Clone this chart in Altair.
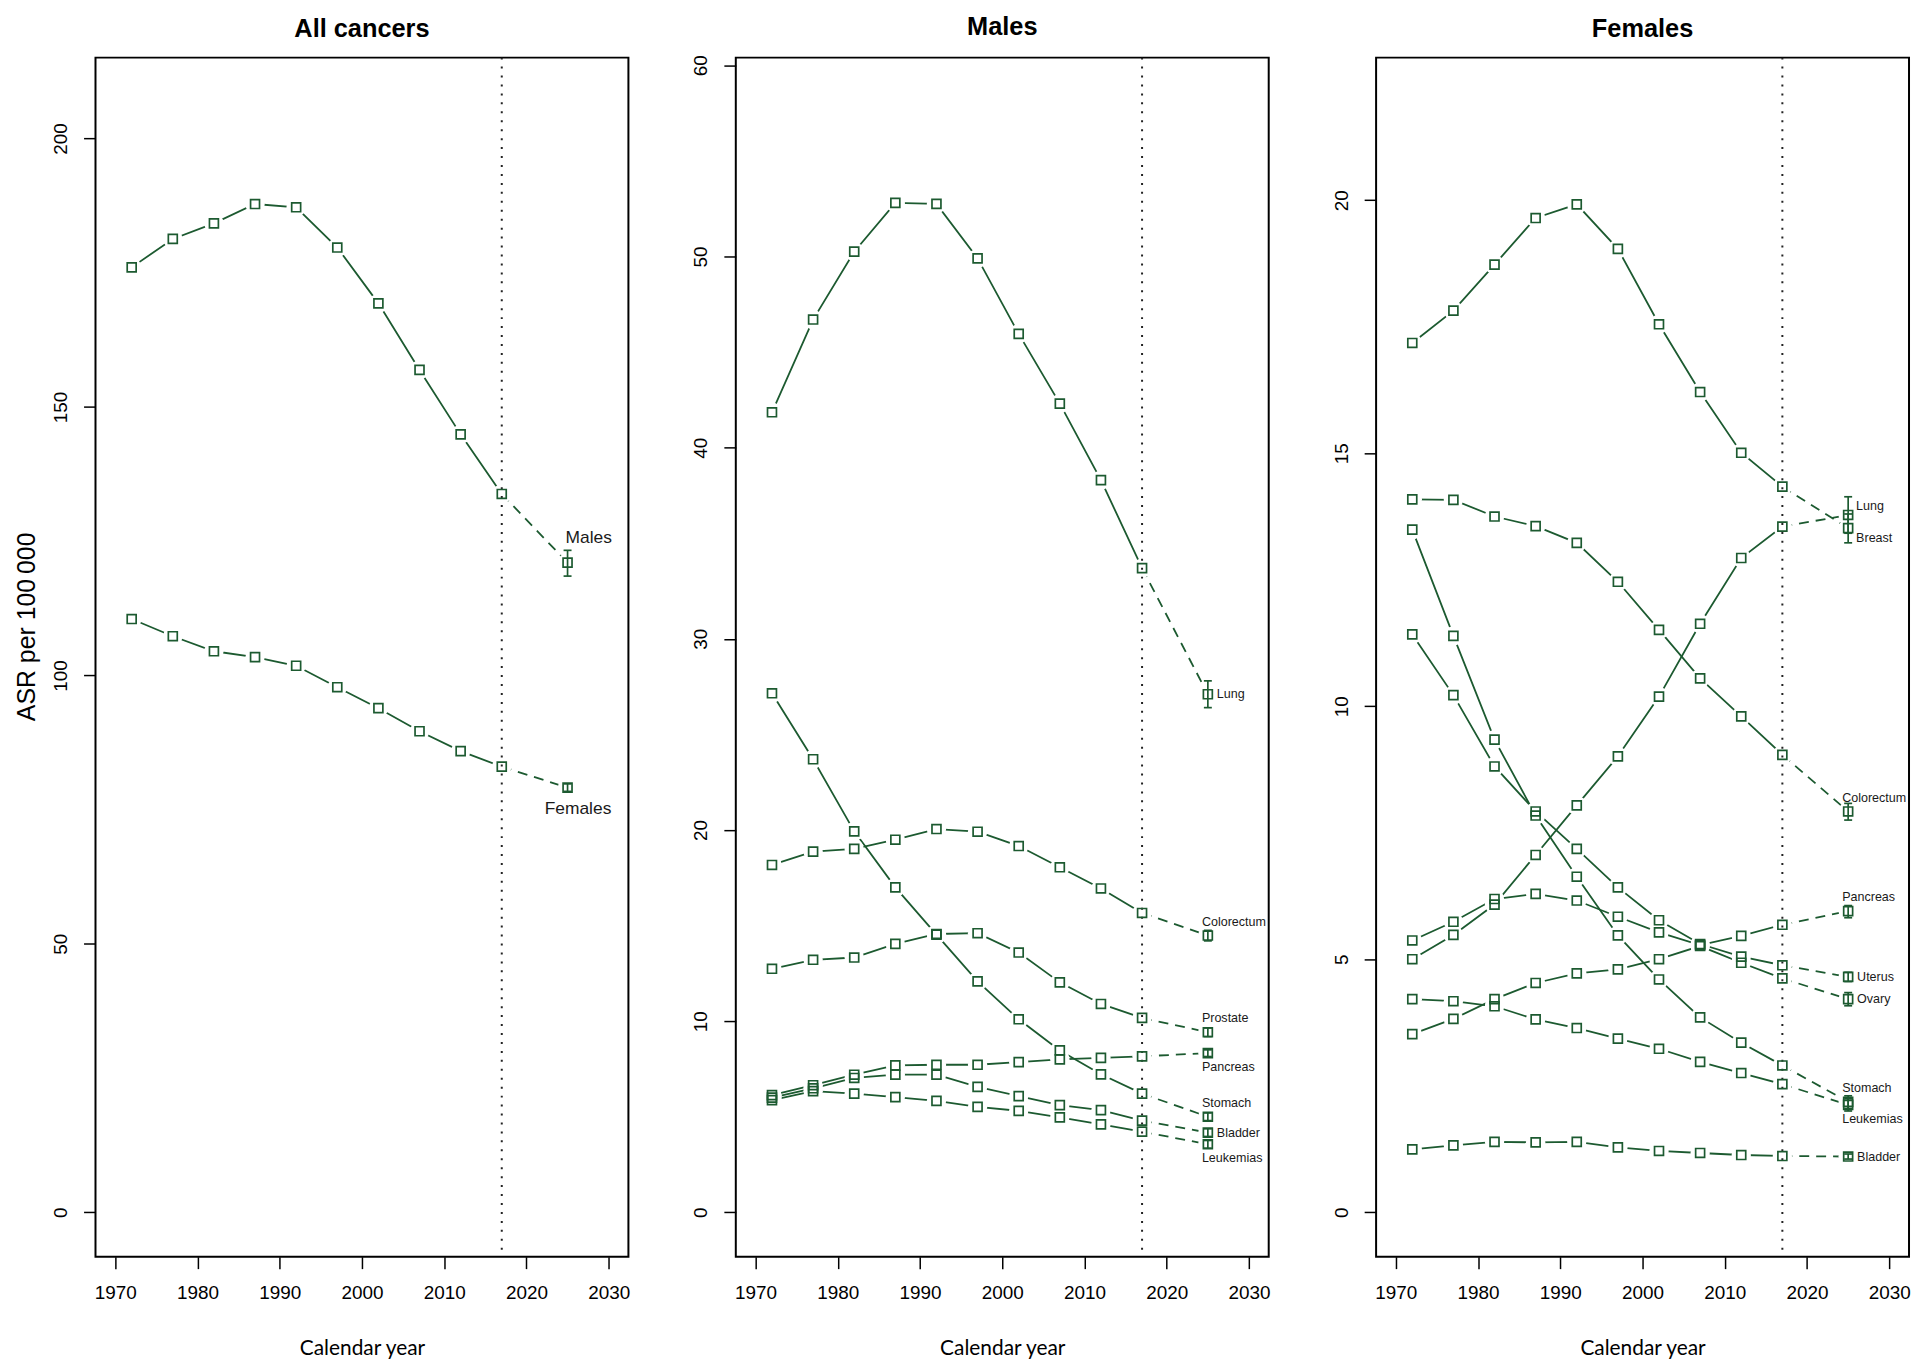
import altair as alt
import pandas as pd

# ---------------- data ----------------
YEARS = [1972, 1977, 1982, 1987, 1992, 1997, 2002, 2007, 2012, 2017]
PRED_YEAR = 2025
X_TICKS = [1970, 1980, 1990, 2000, 2010, 2020, 2030]

# All cancers
ALL_NAMES = ["Males", "Females"]
ALL_MALES = [176.0, 181.3, 184.2, 187.8, 187.2, 179.7, 169.3, 156.9, 144.9, 133.8]
ALL_FEMALES = [110.5, 107.3, 104.5, 103.4, 101.8, 97.8, 93.9, 89.6, 85.9, 83.0]
ALL_PRED = [121.0, 79.1]
ALL_LO = [118.5, 78.4]
ALL_HI = [123.3, 79.8]
ALL_LABEL_POS = ["above_all", "below_all"]

# Males
M_NAMES = ["Lung", "Stomach", "Colorectum", "Prostate", "Pancreas", "Bladder", "Leukemias"]
M_LUNG = [41.85, 46.7, 50.25, 52.8, 52.75, 49.9, 45.95, 42.3, 38.3, 33.7]
M_STOMACH = [27.15, 23.7, 19.93, 17.0, 14.53, 12.08, 10.1, 8.47, 7.22, 6.21]
M_COLORECTUM = [18.17, 18.87, 19.01, 19.49, 20.05, 19.91, 19.16, 18.05, 16.94, 15.66]
M_PROSTATE = [12.74, 13.21, 13.33, 14.04, 14.56, 14.6, 13.59, 12.03, 10.9, 10.17]
M_PANCREAS = [6.13, 6.65, 7.2, 7.69, 7.72, 7.72, 7.86, 8.0, 8.08, 8.16]
M_BLADDER = [6.0, 6.49, 7.03, 7.2, 7.2, 6.56, 6.08, 5.61, 5.35, 4.8]
M_LEUKEMIAS = [5.87, 6.34, 6.21, 6.03, 5.83, 5.52, 5.31, 4.97, 4.6, 4.22]
M_PRED = [27.1, 5.0, 14.48, 9.42, 8.33, 4.17, 3.56]
M_LO = [26.4, 4.8, 14.2, 9.2, 8.15, 3.97, 3.36]
M_HI = [27.8, 5.2, 14.75, 9.65, 8.5, 4.37, 3.76]
M_LABEL_POS = ["right", "above", "above", "above", "below", "right", "below"]

# Females
F_NAMES = ["Breast", "Lung", "Colorectum", "Stomach", "Uterus", "Pancreas", "Ovary", "Leukemias", "Bladder"]
F_BREAST = [17.18, 17.82, 18.73, 19.65, 19.92, 19.04, 17.55, 16.21, 15.01, 14.34]
F_LUNG = [5.0, 5.48, 6.08, 7.06, 8.04, 9.01, 10.19, 11.63, 12.93, 13.55]
F_COLORECTUM = [14.09, 14.08, 13.75, 13.56, 13.23, 12.46, 11.51, 10.55, 9.80, 9.04]
F_STOMACH = [13.49, 11.39, 9.34, 7.84, 6.63, 5.47, 4.6, 3.85, 3.35, 2.90]
F_UTERUS = [11.42, 10.22, 8.81, 7.92, 7.18, 6.42, 5.77, 5.30, 5.05, 4.88]
F_PANCREAS = [5.37, 5.74, 6.19, 6.29, 6.16, 5.84, 5.53, 5.28, 5.46, 5.68]
F_OVARY = [3.52, 3.82, 4.21, 4.53, 4.72, 4.80, 5.0, 5.26, 4.93, 4.62]
F_LEUKEMIAS = [4.21, 4.17, 4.07, 3.81, 3.64, 3.43, 3.23, 2.97, 2.75, 2.53]
F_BLADDER = [1.24, 1.32, 1.39, 1.38, 1.39, 1.28, 1.21, 1.17, 1.13, 1.11]
F_PRED = [13.52, 13.78, 7.92, 2.18, 4.65, 5.95, 4.21, 2.12, 1.10]
F_LO = [13.23, 13.42, 7.75, 2.05, 4.56, 5.82, 4.08, 2.0, 1.05]
F_HI = [13.8, 14.14, 8.08, 2.3, 4.74, 6.06, 4.34, 2.24, 1.15]
F_LABEL_POS = ["right_down", "right_up", "above", "above", "right", "above", "right", "below", "right"]

# ---------------- style ----------------
GREEN = "#1c5a30"
W, H = 536, 1206
X_DOMAIN = [1967.6, 2032.4]
OFFSETS = {
    "right": (9, 0), "right_up": (8, -9), "right_down": (8, 10),
    "above": (-6, -14), "below": (-6, 14),
    "above_all": (-2, -25), "below_all": (-23, 22),
}


def frames(names, obs_lists, preds, los, his, label_pos):
    obs, proj, pts, pi, caps, labels = [], [], [], [], [], []
    for n, vals, p, lo, hi, lp in zip(names, obs_lists, preds, los, his, label_pos):
        for yr, v in zip(YEARS, vals):
            obs.append({"series": n, "year": yr, "value": v})
            pts.append({"series": n, "year": yr, "value": v})
        proj.append({"series": n, "year": YEARS[-1], "value": vals[-1]})
        proj.append({"series": n, "year": PRED_YEAR, "value": p})
        pts.append({"series": n, "year": PRED_YEAR, "value": p})
        pi.append({"series": n, "year": PRED_YEAR, "value": lo, "value2": hi})
        caps.append({"series": n, "year": PRED_YEAR, "value": lo})
        caps.append({"series": n, "year": PRED_YEAR, "value": hi})
        labels.append({"series": n, "year": PRED_YEAR, "value": p, "pos": lp})
    return [pd.DataFrame(d) for d in (obs, proj, pts, pi, caps, labels)]


def panel(title, names, obs_lists, preds, los, his, label_pos, ydomain, yticks,
          ytitle, label_size):
    obs, proj, pts, pi, caps, labels = frames(names, obs_lists, preds, los, his, label_pos)
    x = alt.X("year:Q", scale=alt.Scale(domain=X_DOMAIN, nice=False, zero=False),
              axis=alt.Axis(values=X_TICKS, format="d", title="Calendar year",
                            titleFont="Lato", titleFontSize=21, titleFontWeight="normal",
                            titlePadding=35, labelPadding=15, grid=False, domain=False,
                            tickSize=12, tickWidth=1.5, tickColor="black",
                            labelFont="Liberation Sans", labelFontSize=19,
                            labelColor="black", titleColor="black"))
    yaxis_kwargs = dict(values=yticks, labelAngle=270, labelAlign="center",
                        labelBaseline="bottom", labelPadding=13, grid=False, domain=False,
                        tickSize=12, tickWidth=1.5, tickColor="black",
                        labelFont="Liberation Sans", labelFontSize=19, labelColor="black")
    if ytitle:
        yaxis_kwargs.update(title=ytitle, titleFont="Liberation Sans", titleFontSize=25,
                            titleFontWeight="normal", titlePadding=12, titleY=572,
                            titleColor="black")
    else:
        yaxis_kwargs.update(title=None)
    y = alt.Y("value:Q", scale=alt.Scale(domain=ydomain, nice=False, zero=False),
              axis=alt.Axis(**yaxis_kwargs))

    lines = alt.Chart(obs).mark_line(color=GREEN, strokeWidth=1.8).encode(
        x=x, y=y, detail="series:N")
    dashed = alt.Chart(proj).mark_line(color=GREEN, strokeWidth=1.8, strokeDash=[10, 7]).encode(
        x=x, y=y, detail="series:N")
    halos = alt.Chart(pts).mark_point(shape="circle", filled=True, color="white",
                                      opacity=1, size=380, strokeWidth=0).encode(x=x, y=y)
    vline = alt.Chart(pd.DataFrame({"year": [YEARS[-1]]})).mark_rule(
        color="#222222", strokeWidth=2, strokeDash=[2, 7]).encode(x=x)
    bars = alt.Chart(pi).mark_rule(color=GREEN, strokeWidth=1.7).encode(
        x=x, y=y, y2="value2:Q")
    capm = alt.Chart(caps).mark_point(shape="stroke", size=64, filled=False, opacity=1,
                                      strokeWidth=1.7, color=GREEN).encode(x=x, y=y)
    squares = alt.Chart(pts).mark_point(shape="square", size=81, filled=False, opacity=1,
                                        strokeWidth=1.7, color=GREEN).encode(x=x, y=y)
    layers = [lines, dashed, halos, vline, bars, capm, squares]
    for pos in sorted(set(label_pos)):
        dx, dy = OFFSETS[pos]
        sub = labels[labels["pos"] == pos]
        layers.append(alt.Chart(sub).mark_text(
            align="left", baseline="middle", dx=dx, dy=dy, fontSize=label_size,
            font="Liberation Sans", color="#1a1a1a").encode(x=x, y=y, text="series:N"))
    return alt.layer(*layers).properties(
        width=W, height=H,
        title=alt.TitleParams(text=title, fontSize=25.5, font="Liberation Sans",
                              fontWeight="bold", anchor="middle", offset=14, color="black",
                              frame="group"))


p1 = panel("All cancers", ALL_NAMES, [ALL_MALES, ALL_FEMALES], ALL_PRED, ALL_LO, ALL_HI,
           ALL_LABEL_POS, [-8.27, 215.07], [0, 50, 100, 150, 200],
           "ASR per 100\u2009000", 17.5)
p2 = panel("Males", M_NAMES,
           [M_LUNG, M_STOMACH, M_COLORECTUM, M_PROSTATE, M_PANCREAS, M_BLADDER, M_LEUKEMIAS],
           M_PRED, M_LO, M_HI, M_LABEL_POS, [-2.32, 60.4], [0, 10, 20, 30, 40, 50, 60],
           None, 12.6)
p3 = panel("Females", F_NAMES,
           [F_BREAST, F_LUNG, F_COLORECTUM, F_STOMACH, F_UTERUS, F_PANCREAS, F_OVARY,
            F_LEUKEMIAS, F_BLADDER],
           F_PRED, F_LO, F_HI, F_LABEL_POS, [-0.88, 22.82], [0, 5, 10, 15, 20],
           None, 12.6)

chart = alt.hconcat(
    p1, p2, p3, spacing=108, bounds="flush",
    padding={"left": 6, "top": 2, "right": 0, "bottom": 0},
    background="white",
).configure_view(stroke="black", strokeWidth=2, fill="white")

chart.save("out.html", embed_options={"renderer": "svg", "actions": False})
